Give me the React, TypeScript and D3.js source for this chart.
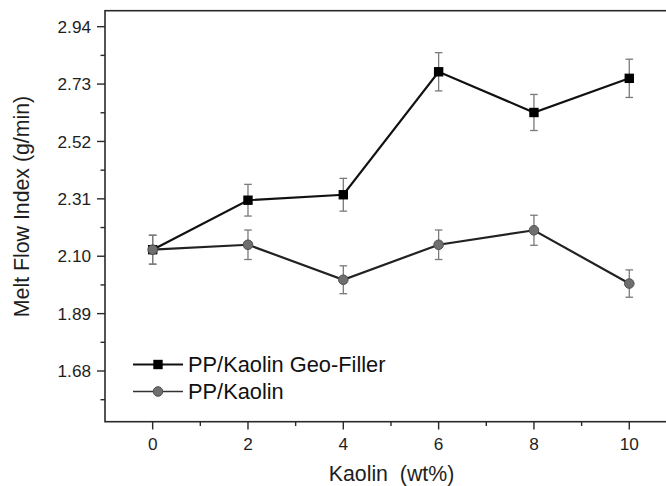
import React from "react";
import * as d3 from "d3";

const kaolin = [0, 2, 4, 6, 8, 10];
const geoFiller = [2.124, 2.305, 2.325, 2.775, 2.626, 2.751];
const geoFillerErr = [0.053, 0.058, 0.06, 0.07, 0.066, 0.07];
const plain = [2.124, 2.142, 2.014, 2.142, 2.195, 2.0];
const plainErr = [0.053, 0.054, 0.051, 0.054, 0.055, 0.05];
const yMajor = [1.68, 1.89, 2.1, 2.31, 2.52, 2.73, 2.94];
const yMinor = [1.575, 1.785, 1.995, 2.205, 2.415, 2.625, 2.835];
const xMajor = [0, 2, 4, 6, 8, 10];
const xMinor = [1, 3, 5, 7, 9, 11];
const seriesNames = ["PP/Kaolin Geo-Filler", "PP/Kaolin"];

const W = 666;
const H = 486;
const FONT = "'Liberation Sans', Arial, Helvetica, sans-serif";

export default function App() {
  const x = d3.scaleLinear().domain([-1, 12]).range([105, 724.6]);
  const y = d3.scaleLinear().domain([1.4945, 2.9985]).range([421.7, 10.7]);
  const line = d3
    .line<number>()
    .x((_, i) => x(kaolin[i]))
    .y((d) => y(d));

  const axisColor = "#2a2a2a";
  const errColor = "#7a7a7a";

  const errorBars = (vals: number[], errs: number[], key: string) =>
    vals.map((v, i) => {
      const cx = x(kaolin[i]);
      const t = y(v + errs[i]);
      const b = y(v - errs[i]);
      return (
        <g key={key + i} stroke={errColor} strokeWidth={1.3}>
          <line x1={cx} x2={cx} y1={t} y2={b} />
          <line x1={cx - 3.8} x2={cx + 3.8} y1={t} y2={t} />
          <line x1={cx - 3.8} x2={cx + 3.8} y1={b} y2={b} />
        </g>
      );
    });

  return (
    <svg
      width={W}
      height={H}
      style={{ position: "absolute", left: 0, top: 0, background: "#fff" }}
      fontFamily={FONT}
    >
      <rect width={W} height={H} fill="#fff" />
      {/* frame */}
      <rect
        x={x(-1)}
        y={y(2.9985)}
        width={x(12) - x(-1)}
        height={y(1.4945) - y(2.9985)}
        fill="none"
        stroke={axisColor}
        strokeWidth={1.6}
      />
      {/* y ticks */}
      {yMajor.map((v) => (
        <g key={"ym" + v}>
          <line x1={97} x2={105} y1={y(v)} y2={y(v)} stroke={axisColor} strokeWidth={1.4} />
          <text x={91} y={y(v)} dy="0.36em" textAnchor="end" fontSize={17.2} fill="#1e1e1e">
            {v.toFixed(2)}
          </text>
        </g>
      ))}
      {yMinor.map((v) => (
        <line key={"yn" + v} x1={100.5} x2={105} y1={y(v)} y2={y(v)} stroke={axisColor} strokeWidth={1.4} />
      ))}
      {/* x ticks */}
      {xMajor.map((v) => (
        <g key={"xm" + v}>
          <line x1={x(v)} x2={x(v)} y1={421.7} y2={429.5} stroke={axisColor} strokeWidth={1.4} />
          <text x={x(v)} y={450} textAnchor="middle" fontSize={17.2} fill="#1e1e1e">
            {v}
          </text>
        </g>
      ))}
      {xMinor.map((v) => (
        <line key={"xn" + v} x1={x(v)} x2={x(v)} y1={421.7} y2={426} stroke={axisColor} strokeWidth={1.4} />
      ))}
      {/* axis titles */}
      <text x={391.5} y={480.5} textAnchor="middle" fontSize={21.3} fill="#1e1e1e" xmlSpace="preserve">
        Kaolin  (wt%)
      </text>
      <text
        transform={`translate(28.5, 206.5) rotate(-90)`}
        textAnchor="middle"
        fontSize={21.3}
        fill="#1e1e1e"
      >
        Melt Flow Index (g/min)
      </text>

      {/* error bars */}
      {errorBars(geoFiller, geoFillerErr, "eg")}
      {errorBars(plain, plainErr, "ep")}

      {/* lines */}
      <path d={line(geoFiller) || ""} fill="none" stroke="#111" strokeWidth={2.2} />
      <path d={line(plain) || ""} fill="none" stroke="#222" strokeWidth={2.2} />

      {/* markers */}
      {geoFiller.map((v, i) => (
        <rect key={"sq" + i} x={x(kaolin[i]) - 4.7} y={y(v) - 4.7} width={9.4} height={9.4} fill="#000" />
      ))}
      {plain.map((v, i) => (
        <circle
          key={"ci" + i}
          cx={x(kaolin[i])}
          cy={y(v)}
          r={4.8}
          fill="#6f6f6f"
          stroke="#505050"
          strokeWidth={1}
        />
      ))}

      {/* legend */}
      <g>
        <line x1={133} x2={183} y1={364.5} y2={364.5} stroke="#111" strokeWidth={2.2} />
        <rect x={158 - 4.7} y={364.5 - 4.7} width={9.4} height={9.4} fill="#000" />
        <text x={188} y={372} fontSize={21.8} fill="#111">
          {seriesNames[0]}
        </text>
        <line x1={133} x2={183} y1={391.5} y2={391.5} stroke="#333" strokeWidth={1.6} />
        <circle cx={158} cy={391.5} r={4.8} fill="#6f6f6f" stroke="#505050" strokeWidth={1} />
        <text x={188} y={399} fontSize={21.8} fill="#111">
          {seriesNames[1]}
        </text>
      </g>
    </svg>
  );
}
